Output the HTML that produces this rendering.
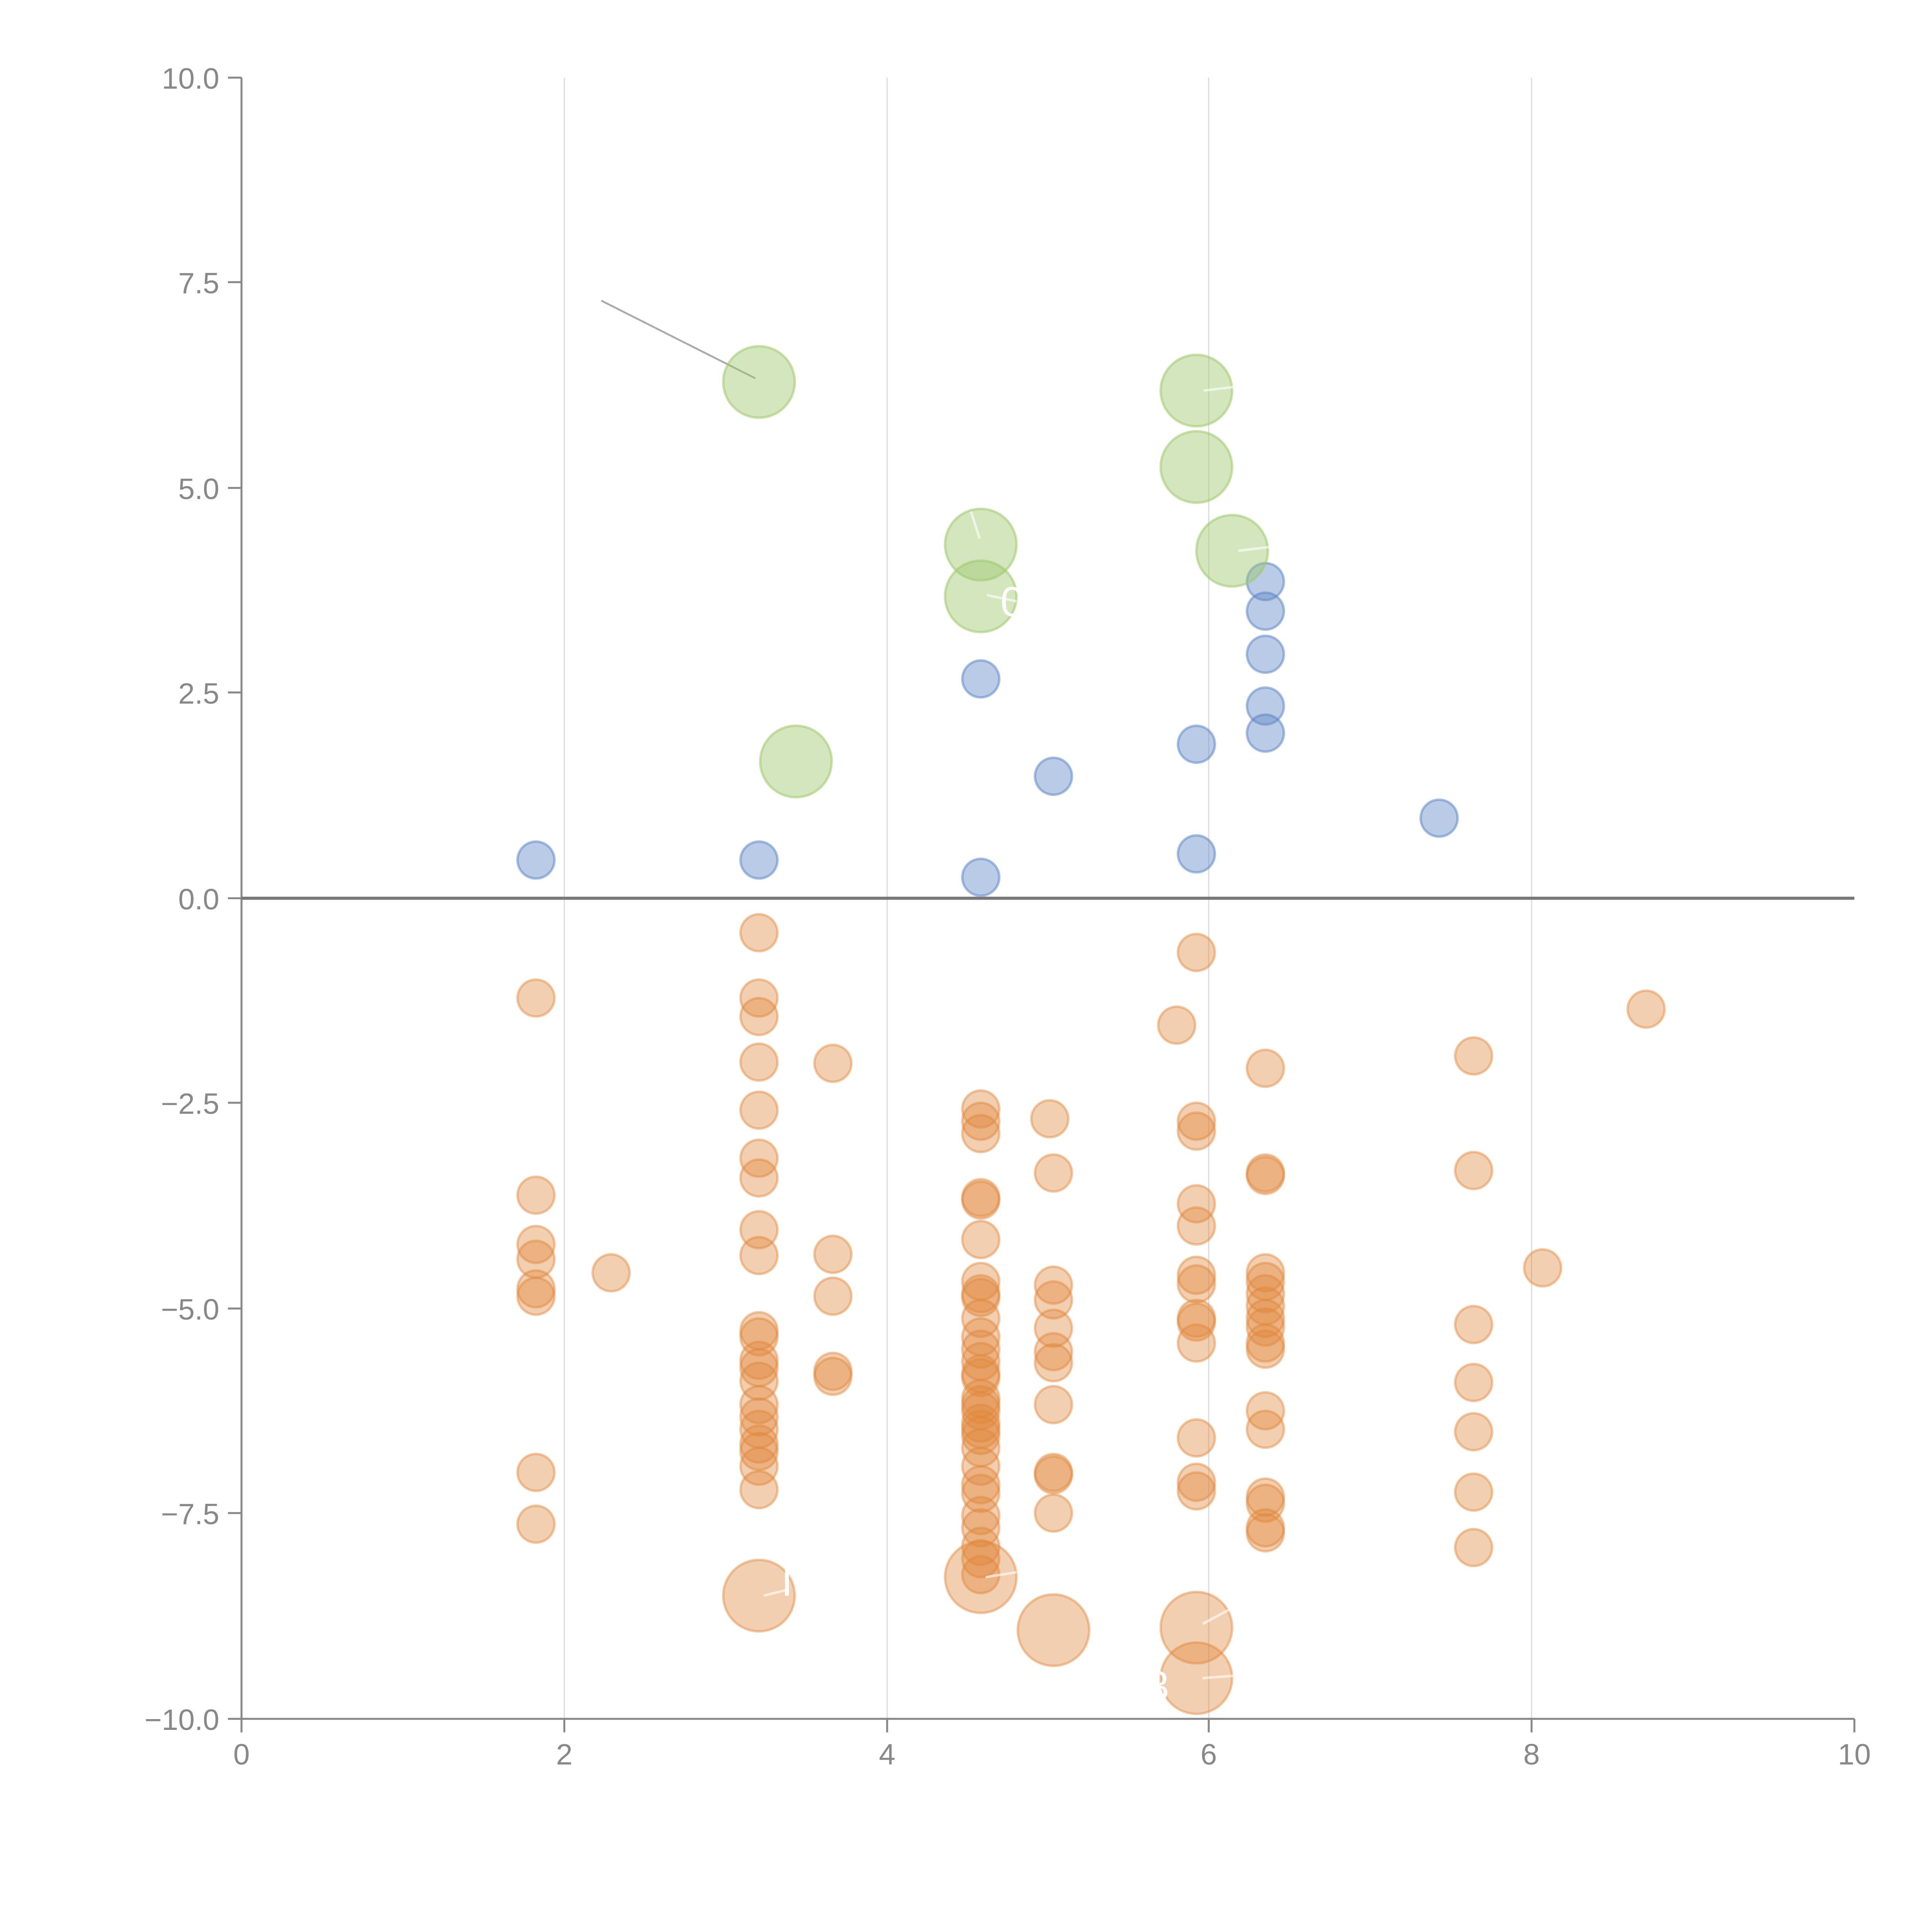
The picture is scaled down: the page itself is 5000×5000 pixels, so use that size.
<!DOCTYPE html>
<html><head><meta charset="utf-8"><style>html,body{margin:0;padding:0;background:#fff}svg{display:block}</style></head><body>
<svg width="5000" height="5000" viewBox="0 0 1568 1568" xmlns="http://www.w3.org/2000/svg" font-family="Liberation Sans, sans-serif">
<g stroke="#dcdcdc" stroke-width="1">
<line x1="458" y1="63" x2="458" y2="1395"/><line x1="720" y1="63" x2="720" y2="1395"/><line x1="981" y1="63" x2="981" y2="1395"/><line x1="1243" y1="63" x2="1243" y2="1395"/>
</g>
<g fill="#888" font-size="24" text-anchor="end">
<text x="178" y="72">10.0</text><text x="178" y="238">7.5</text><text x="178" y="405">5.0</text><text x="178" y="571">2.5</text><text x="178" y="738">0.0</text><text x="178" y="904">−2.5</text><text x="178" y="1071">−5.0</text><text x="178" y="1237">−7.5</text><text x="178" y="1404">−10.0</text>
</g>
<g fill="#888" font-size="24" text-anchor="middle">
<text x="196" y="1432">0</text><text x="458" y="1432">2</text><text x="720" y="1432">4</text><text x="981" y="1432">6</text><text x="1243" y="1432">8</text><text x="1505" y="1432">10</text>
</g>
<g stroke="#888" stroke-width="1.6">
<line x1="196" y1="63" x2="196" y2="1395"/><line x1="196" y1="1395" x2="1505" y2="1395"/>
<line x1="185" y1="63" x2="196" y2="63"/><line x1="185" y1="229" x2="196" y2="229"/><line x1="185" y1="396" x2="196" y2="396"/><line x1="185" y1="562" x2="196" y2="562"/><line x1="185" y1="729" x2="196" y2="729"/><line x1="185" y1="895" x2="196" y2="895"/><line x1="185" y1="1062" x2="196" y2="1062"/><line x1="185" y1="1228" x2="196" y2="1228"/><line x1="185" y1="1395" x2="196" y2="1395"/>
<line x1="196" y1="1395" x2="196" y2="1406"/><line x1="458" y1="1395" x2="458" y2="1406"/><line x1="720" y1="1395" x2="720" y2="1406"/><line x1="981" y1="1395" x2="981" y2="1406"/><line x1="1243" y1="1395" x2="1243" y2="1406"/><line x1="1505" y1="1395" x2="1505" y2="1406"/>
</g>
<line x1="196" y1="729" x2="1505" y2="729" stroke="#777" stroke-width="2.5"/>
<line x1="488" y1="244" x2="613" y2="307" stroke="#aaa" stroke-width="1.5"/>
<g fill="rgb(224,135,60)" fill-opacity="0.4" stroke="rgb(224,135,60)" stroke-opacity="0.45" stroke-width="2">
<circle cx="435" cy="810" r="15"/><circle cx="435" cy="970" r="15"/><circle cx="435" cy="1010" r="15"/><circle cx="435" cy="1022" r="15"/><circle cx="435" cy="1046" r="15"/><circle cx="435" cy="1052" r="15"/><circle cx="435" cy="1195" r="15"/><circle cx="435" cy="1237" r="15"/>
<circle cx="496" cy="1033" r="15"/>
<circle cx="616" cy="757" r="15"/><circle cx="616" cy="810" r="15"/><circle cx="616" cy="825" r="15"/><circle cx="616" cy="862" r="15"/><circle cx="616" cy="901" r="15"/><circle cx="616" cy="940" r="15"/><circle cx="616" cy="956" r="15"/><circle cx="616" cy="998" r="15"/><circle cx="616" cy="1019" r="15"/><circle cx="616" cy="1080" r="15"/><circle cx="616" cy="1085" r="15"/><circle cx="616" cy="1104" r="15"/><circle cx="616" cy="1110" r="15"/><circle cx="616" cy="1121" r="15"/><circle cx="616" cy="1140" r="15"/><circle cx="616" cy="1150" r="15"/><circle cx="616" cy="1160" r="15"/><circle cx="616" cy="1172" r="15"/><circle cx="616" cy="1178" r="15"/><circle cx="616" cy="1190" r="15"/><circle cx="616" cy="1209" r="15"/>
<circle cx="676" cy="863" r="15"/><circle cx="676" cy="1018" r="15"/><circle cx="676" cy="1052" r="15"/><circle cx="676" cy="1113" r="15"/><circle cx="676" cy="1117" r="15"/>
<circle cx="796" cy="900" r="15"/><circle cx="796" cy="910" r="15"/><circle cx="796" cy="920" r="15"/><circle cx="796" cy="972" r="15"/><circle cx="796" cy="974" r="15"/><circle cx="796" cy="1006" r="15"/><circle cx="796" cy="1040" r="15"/><circle cx="796" cy="1050" r="15"/><circle cx="796" cy="1053" r="15"/><circle cx="796" cy="1070" r="15"/><circle cx="796" cy="1085" r="15"/><circle cx="796" cy="1095" r="15"/><circle cx="796" cy="1105" r="15"/><circle cx="796" cy="1115" r="15"/><circle cx="796" cy="1118" r="15"/><circle cx="796" cy="1135" r="15"/><circle cx="796" cy="1140" r="15"/><circle cx="796" cy="1145" r="15"/><circle cx="796" cy="1155" r="15"/><circle cx="796" cy="1160" r="15"/><circle cx="796" cy="1165" r="15"/><circle cx="796" cy="1175" r="15"/><circle cx="796" cy="1190" r="15"/><circle cx="796" cy="1205" r="15"/><circle cx="796" cy="1212" r="15"/><circle cx="796" cy="1230" r="15"/><circle cx="796" cy="1240" r="15"/><circle cx="796" cy="1255" r="15"/><circle cx="796" cy="1265" r="15"/><circle cx="796" cy="1278" r="15"/>
<circle cx="852" cy="908" r="15"/><circle cx="855" cy="952" r="15"/><circle cx="855" cy="1043" r="15"/><circle cx="855" cy="1055" r="15"/><circle cx="855" cy="1078" r="15"/><circle cx="855" cy="1097" r="15"/><circle cx="855" cy="1106" r="15"/><circle cx="855" cy="1140" r="15"/><circle cx="855" cy="1195" r="15"/><circle cx="855" cy="1197" r="15"/><circle cx="855" cy="1228" r="15"/>
<circle cx="955" cy="832" r="15"/>
<circle cx="971" cy="773" r="15"/><circle cx="971" cy="910" r="15"/><circle cx="971" cy="918" r="15"/><circle cx="971" cy="977" r="15"/><circle cx="971" cy="995" r="15"/><circle cx="971" cy="1035" r="15"/><circle cx="971" cy="1042" r="15"/><circle cx="971" cy="1070" r="15"/><circle cx="971" cy="1073" r="15"/><circle cx="971" cy="1090" r="15"/><circle cx="971" cy="1167" r="15"/><circle cx="971" cy="1203" r="15"/><circle cx="971" cy="1210" r="15"/>
<circle cx="1027" cy="867" r="15"/><circle cx="1027" cy="952" r="15"/><circle cx="1027" cy="954" r="15"/><circle cx="1027" cy="1033" r="15"/><circle cx="1027" cy="1040" r="15"/><circle cx="1027" cy="1050" r="15"/><circle cx="1027" cy="1060" r="15"/><circle cx="1027" cy="1070" r="15"/><circle cx="1027" cy="1077" r="15"/><circle cx="1027" cy="1090" r="15"/><circle cx="1027" cy="1095" r="15"/><circle cx="1027" cy="1145" r="15"/><circle cx="1027" cy="1160" r="15"/><circle cx="1027" cy="1215" r="15"/><circle cx="1027" cy="1220" r="15"/><circle cx="1027" cy="1240" r="15"/><circle cx="1027" cy="1244" r="15"/>
<circle cx="1196" cy="857" r="15"/><circle cx="1196" cy="950" r="15"/><circle cx="1196" cy="1075" r="15"/><circle cx="1196" cy="1122" r="15"/><circle cx="1196" cy="1162" r="15"/><circle cx="1196" cy="1211" r="15"/><circle cx="1196" cy="1256" r="15"/>
<circle cx="1252" cy="1029" r="15"/><circle cx="1336" cy="819" r="15"/>
<circle cx="616" cy="1295" r="29"/><circle cx="796" cy="1280" r="29"/><circle cx="855" cy="1323" r="29"/><circle cx="971" cy="1321" r="29"/><circle cx="971" cy="1362" r="29"/>
</g>
<g fill="rgb(100,140,200)" fill-opacity="0.45" stroke="rgb(90,130,195)" stroke-opacity="0.5" stroke-width="2">
<circle cx="435" cy="698" r="15"/><circle cx="616" cy="698" r="15"/><circle cx="796" cy="551" r="15"/><circle cx="796" cy="712" r="15"/><circle cx="855" cy="630" r="15"/><circle cx="971" cy="604" r="15"/><circle cx="971" cy="693" r="15"/><circle cx="1027" cy="472" r="15"/><circle cx="1027" cy="496" r="15"/><circle cx="1027" cy="531" r="15"/><circle cx="1027" cy="573" r="15"/><circle cx="1027" cy="595" r="15"/><circle cx="1168" cy="664" r="15"/>
</g>
<g fill="rgb(160,200,110)" fill-opacity="0.45" stroke="rgb(160,200,110)" stroke-opacity="0.55" stroke-width="2">
<circle cx="616" cy="310" r="29"/><circle cx="796" cy="442" r="29"/><circle cx="796" cy="484" r="29"/><circle cx="971" cy="317" r="29"/><circle cx="971" cy="379" r="29"/><circle cx="1000" cy="447" r="29"/><circle cx="646" cy="618" r="29"/>
</g>
<g stroke="#fff" stroke-opacity="0.6" stroke-width="2">
<line x1="795" y1="437" x2="788" y2="415"/><line x1="801" y1="483" x2="825" y2="488"/><line x1="977" y1="317" x2="1002" y2="314"/><line x1="1005" y1="447" x2="1030" y2="444"/>
<line x1="620" y1="1295" x2="640" y2="1290"/><line x1="800" y1="1280" x2="825" y2="1276"/><line x1="976" y1="1318" x2="1000" y2="1305"/><line x1="976" y1="1362" x2="1002" y2="1360"/>
</g>
<g fill="#fff" font-size="34">
<text x="812" y="500">0</text><text x="930" y="1380">3</text><text x="634" y="1295">I</text>
</g>
</svg>
</body></html>
